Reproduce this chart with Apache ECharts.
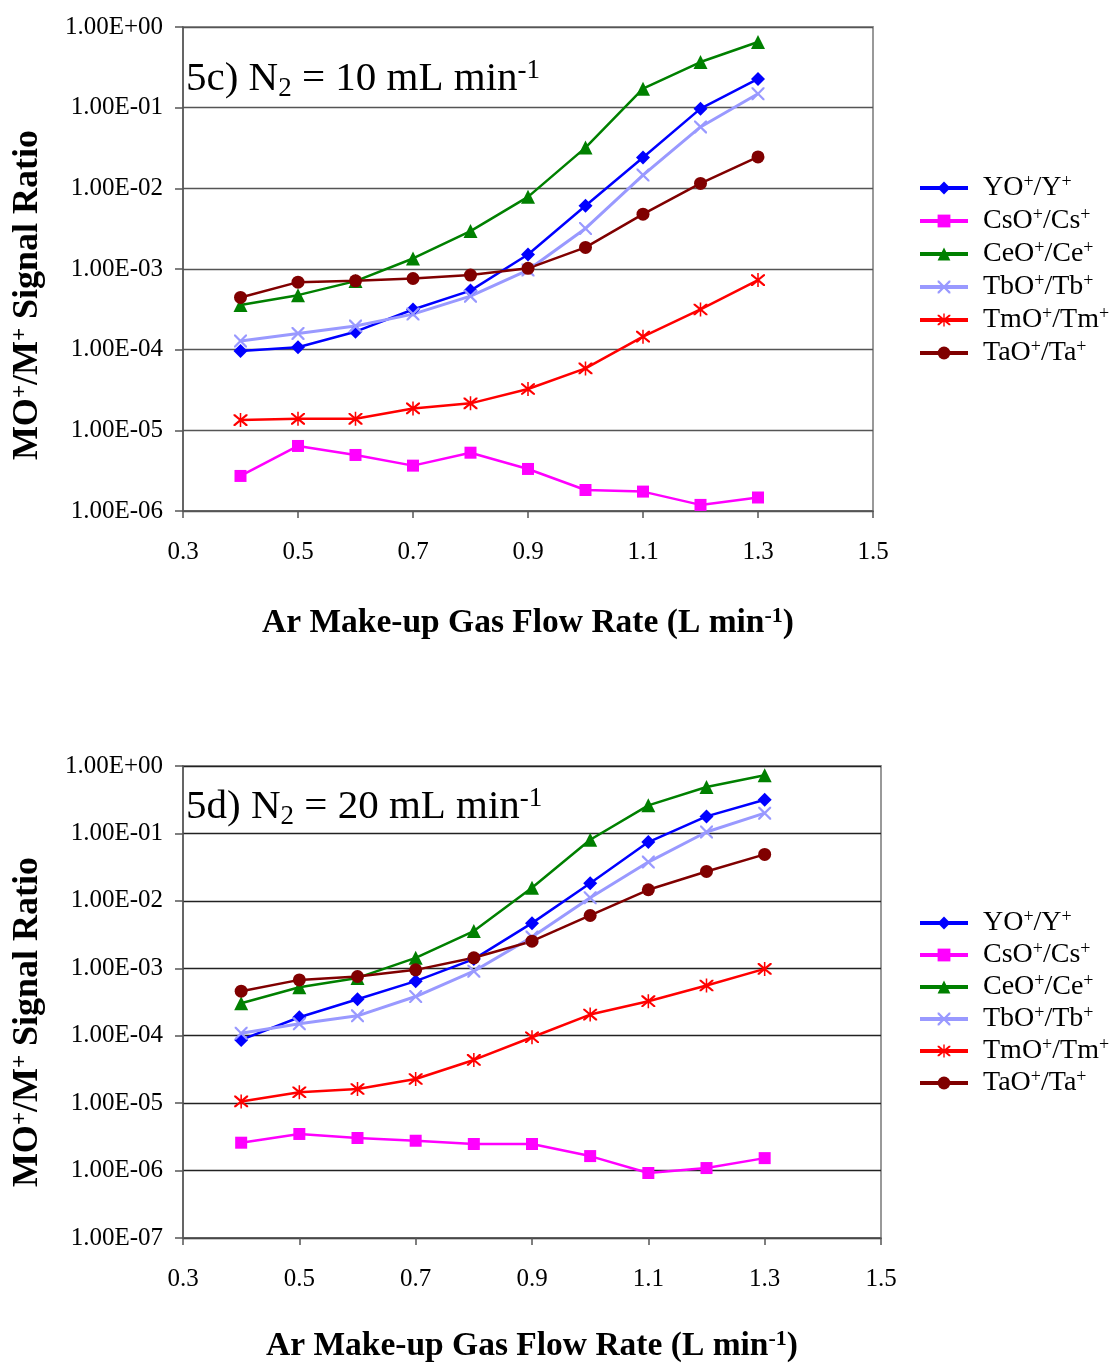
<!DOCTYPE html>
<html>
<head>
<meta charset="utf-8">
<script src="https://cdn.jsdelivr.net/npm/echarts@6/dist/echarts.min.js"></script>
<style>
html,body{margin:0;padding:0;background:#fff;}
#chart{width:1112px;height:1365px;}
</style>
</head>
<body>
<div id="chart"></div>
<script>
// ---- data ----
const flowRates = [0.4, 0.5, 0.6, 0.7, 0.8, 0.9, 1.0, 1.1, 1.2, 1.3];
const seriesNames = ['YO+/Y+', 'CsO+/Cs+', 'CeO+/Ce+', 'TbO+/Tb+', 'TmO+/Tm+', 'TaO+/Ta+'];
const xTickLabels = ['0.3', '0.5', '0.7', '0.9', '1.1', '1.3', '1.5'];

// Panel 5c) N2 = 10 mL/min
const c_YO  = [9.6e-5, 1.07e-4, 1.67e-4, 3.15e-4, 5.4e-4, 1.51e-3, 6.07e-3, 0.0241, 0.0973, 0.227];
const c_CsO = [2.72e-6, 6.4e-6, 4.95e-6, 3.65e-6, 5.28e-6, 3.32e-6, 1.82e-6, 1.74e-6, 1.19e-6, 1.47e-6];
const c_CeO = [3.57e-4, 4.74e-4, 7.08e-4, 1.35e-3, 2.95e-3, 7.84e-3, 0.032, 0.172, 0.368, 0.652];
const c_TbO = [1.28e-4, 1.59e-4, 1.96e-4, 2.76e-4, 4.61e-4, 9.7e-4, 3.18e-3, 0.0146, 0.0577, 0.149];
const c_TmO = [1.34e-5, 1.39e-5, 1.39e-5, 1.87e-5, 2.16e-5, 3.25e-5, 5.86e-5, 1.45e-4, 3.15e-4, 7.28e-4];
const c_TaO = [4.44e-4, 6.87e-4, 7.14e-4, 7.63e-4, 8.4e-4, 1.02e-3, 1.85e-3, 4.78e-3, 0.0115, 0.0245];

// Panel 5d) N2 = 20 mL/min
const d_YO  = [8.67e-5, 1.88e-4, 3.48e-4, 6.44e-4, 1.37e-3, 4.67e-3, 0.0183, 0.0744, 0.179, 0.316];
const d_CsO = [2.59e-6, 3.49e-6, 3.04e-6, 2.77e-6, 2.48e-6, 2.48e-6, 1.64e-6, 9.2e-7, 1.09e-6, 1.53e-6];
const d_CeO = [3.03e-4, 5.24e-4, 7.2e-4, 1.43e-3, 3.56e-3, 0.0156, 0.0806, 0.261, 0.488, 0.727];
const d_TbO = [1.09e-4, 1.5e-4, 1.97e-4, 3.81e-4, 9.06e-4, 2.9e-3, 0.0111, 0.0376, 0.105, 0.2];
const d_TmO = [1.06e-5, 1.45e-5, 1.62e-5, 2.28e-5, 4.37e-5, 9.5e-5, 2.06e-4, 3.25e-4, 5.55e-4, 9.8e-4];
const d_TaO = [4.57e-4, 6.73e-4, 7.55e-4, 9.48e-4, 1.43e-3, 2.52e-3, 6.07e-3, 0.0146, 0.0273, 0.0489];

const panelC = [c_YO, c_CsO, c_CeO, c_TbO, c_TmO, c_TaO];
const panelD = [d_YO, d_CsO, d_CeO, d_TbO, d_TmO, d_TaO];

// ---- styles ----
const FONT = '"Liberation Serif", "Times New Roman", serif';
const colors = ['#0000FF', '#FF00FF', '#008000', '#9999FF', '#FF0000', '#800000'];
const xPath = 'path://M0,0 L1.2,0 L5,3.8 L8.8,0 L10,0 L10,1.2 L6.2,5 L10,8.8 L10,10 L8.8,10 L5,6.2 L1.2,10 L0,10 L0,8.8 L3.8,5 L0,1.2 Z';
const starPath = 'path://M0,0 L1.2,0 L5,3.8 L8.8,0 L10,0 L10,1.2 L6.2,5 L10,8.8 L10,10 L8.8,10 L5,6.2 L1.2,10 L0,10 L0,8.8 L3.8,5 L0,1.2 Z M4.45,-1 L5.55,-1 L5.55,11 L4.45,11 Z';
const symbols = ['diamond', 'rect', 'triangle', xPath, starPath, 'circle'];
const symbolSizes = [14, 12, 14, 13, 14, 13];
const lineWidths = [2.5, 2.5, 2.5, 3, 2.5, 2.5];

function sci(v) {
  const e = Math.round(Math.log10(v));
  return '1.00E' + (e < 0 ? '-' : '+') + String(Math.abs(e)).padStart(2, '0');
}
function supRich(name) {
  return name.split(/(\+)/).map(p => p === '+' ? '{s|+}' : (p ? '{a|' + p + '}' : '')).join('');
}

const grids = [
  { left: 183, top: 27, width: 690, height: 484 },
  { left: 183, top: 766, width: 698, height: 472 }
];
const yMins = [1e-6, 1e-7];
const xNameGaps = [94, 90];
const yNamePads = [52, 40];

const xAxes = [], yAxes = [], series = [];
[0, 1].forEach(g => {
  xAxes.push({
    type: 'value', gridIndex: g, min: 0.3, max: 1.5, interval: 0.2,
    axisLine: { show: true, lineStyle: { color: '#555', width: 1.5 } },
    axisTick: { show: true, length: 7, lineStyle: { color: '#555', width: 1.5 } },
    splitLine: { show: false },
    axisLabel: {
      margin: 29, fontFamily: FONT, fontSize: 25, color: '#000',
      formatter: v => xTickLabels.find(t => Math.abs(parseFloat(t) - v) < 1e-6) || ''
    },
    name: '{b|Ar Make-up Gas Flow Rate (L min}{bs|-1}{b|)}',
    nameLocation: 'middle', nameGap: xNameGaps[g],
    nameTextStyle: {
      rich: {
        b: { fontFamily: FONT, fontSize: 33.5, fontWeight: 'bold', color: '#000' },
        bs: { fontFamily: FONT, fontSize: 22, fontWeight: 'bold', color: '#000', verticalAlign: 'top', padding: [0, 0, 14, 0] }
      }
    }
  });
  yAxes.push({
    type: 'log', logBase: 10, gridIndex: g, min: yMins[g], max: 1,
    axisLine: { show: true, lineStyle: { color: '#555', width: 1.5 } },
    axisTick: { show: true, length: 8, lineStyle: { color: '#555', width: 1.5 } },
    splitLine: { show: true, lineStyle: { color: g === 0 ? '#555' : '#222', width: 1.3 } },
    minorTick: { show: false },
    axisLabel: { margin: 20, fontFamily: FONT, fontSize: 25, color: '#000', formatter: sci },
    name: '{b|MO}{bs|+}{b|/M}{bs|+}{b| Signal Ratio}',
    nameLocation: 'middle', nameGap: 136, nameRotate: 90,
    nameTextStyle: {
      padding: [0, yNamePads[g], 0, 0],
      rich: {
        b: { fontFamily: FONT, fontSize: 36, fontWeight: 'bold', color: '#000' },
        bs: { fontFamily: FONT, fontSize: 23, fontWeight: 'bold', color: '#000', verticalAlign: 'top', padding: [0, 0, 15, 0] }
      }
    }
  });
  const panel = g === 0 ? panelC : panelD;
  seriesNames.forEach((name, i) => {
    series.push({
      name: name, type: 'line', xAxisIndex: g, yAxisIndex: g,
      data: flowRates.map((x, k) => [x, panel[i][k]]),
      symbol: symbols[i], symbolSize: symbolSizes[i], showSymbol: true,
      lineStyle: { color: colors[i], width: lineWidths[i] },
      itemStyle: { color: colors[i], borderWidth: 0 },
      emphasis: { disabled: true },
      animation: false
    });
  });
});

const legendRich = {
  a: { fontFamily: FONT, fontSize: 28, lineHeight: 28, color: '#000' },
  s: { fontFamily: FONT, fontSize: 18, color: '#000', verticalAlign: 'top', padding: [0, 0, 12, 0] }
};
const legends = [{ top: 168, gap: 4 }, { top: 903, gap: 3 }].map(p => ({
  orient: 'vertical', left: 913, top: p.top,
  itemWidth: 48, itemHeight: 16, itemGap: p.gap,
  data: seriesNames,
  formatter: supRich,
  lineStyle: { width: 4 },
  textStyle: { rich: legendRich, padding: [0, 0, 0, 10] },
  selectedMode: false
}));

const titleRich = {
  a: { fontFamily: FONT, fontSize: 41, fontWeight: 'normal', color: '#000' },
  sub: { fontFamily: FONT, fontSize: 27, fontWeight: 'normal', color: '#000', verticalAlign: 'bottom', padding: [12, 0, 0, 0] },
  sup: { fontFamily: FONT, fontSize: 27, fontWeight: 'normal', color: '#000', verticalAlign: 'top', padding: [0, 0, 18, 0] }
};
const titles = [
  { text: '{a|5c) N}{sub|2}{a| = 10 mL min}{sup|-1}', left: 186, top: 57 },
  { text: '{a|5d) N}{sub|2}{a| = 20 mL min}{sup|-1}', left: 186, top: 785 }
].map(t => Object.assign(t, { padding: 0, textStyle: { fontWeight: 'normal', rich: titleRich } }));

const chart = echarts.init(document.getElementById('chart'), null, { renderer: 'canvas' });
chart.setOption({
  backgroundColor: '#fff',
  animation: false,
  title: titles,
  legend: legends,
  grid: grids.map(g => Object.assign({ show: true, borderColor: '#999', borderWidth: 2, containLabel: false, outerBoundsMode: 'none' }, g)),
  xAxis: xAxes,
  yAxis: yAxes,
  series: series
});
</script>
</body>
</html>
